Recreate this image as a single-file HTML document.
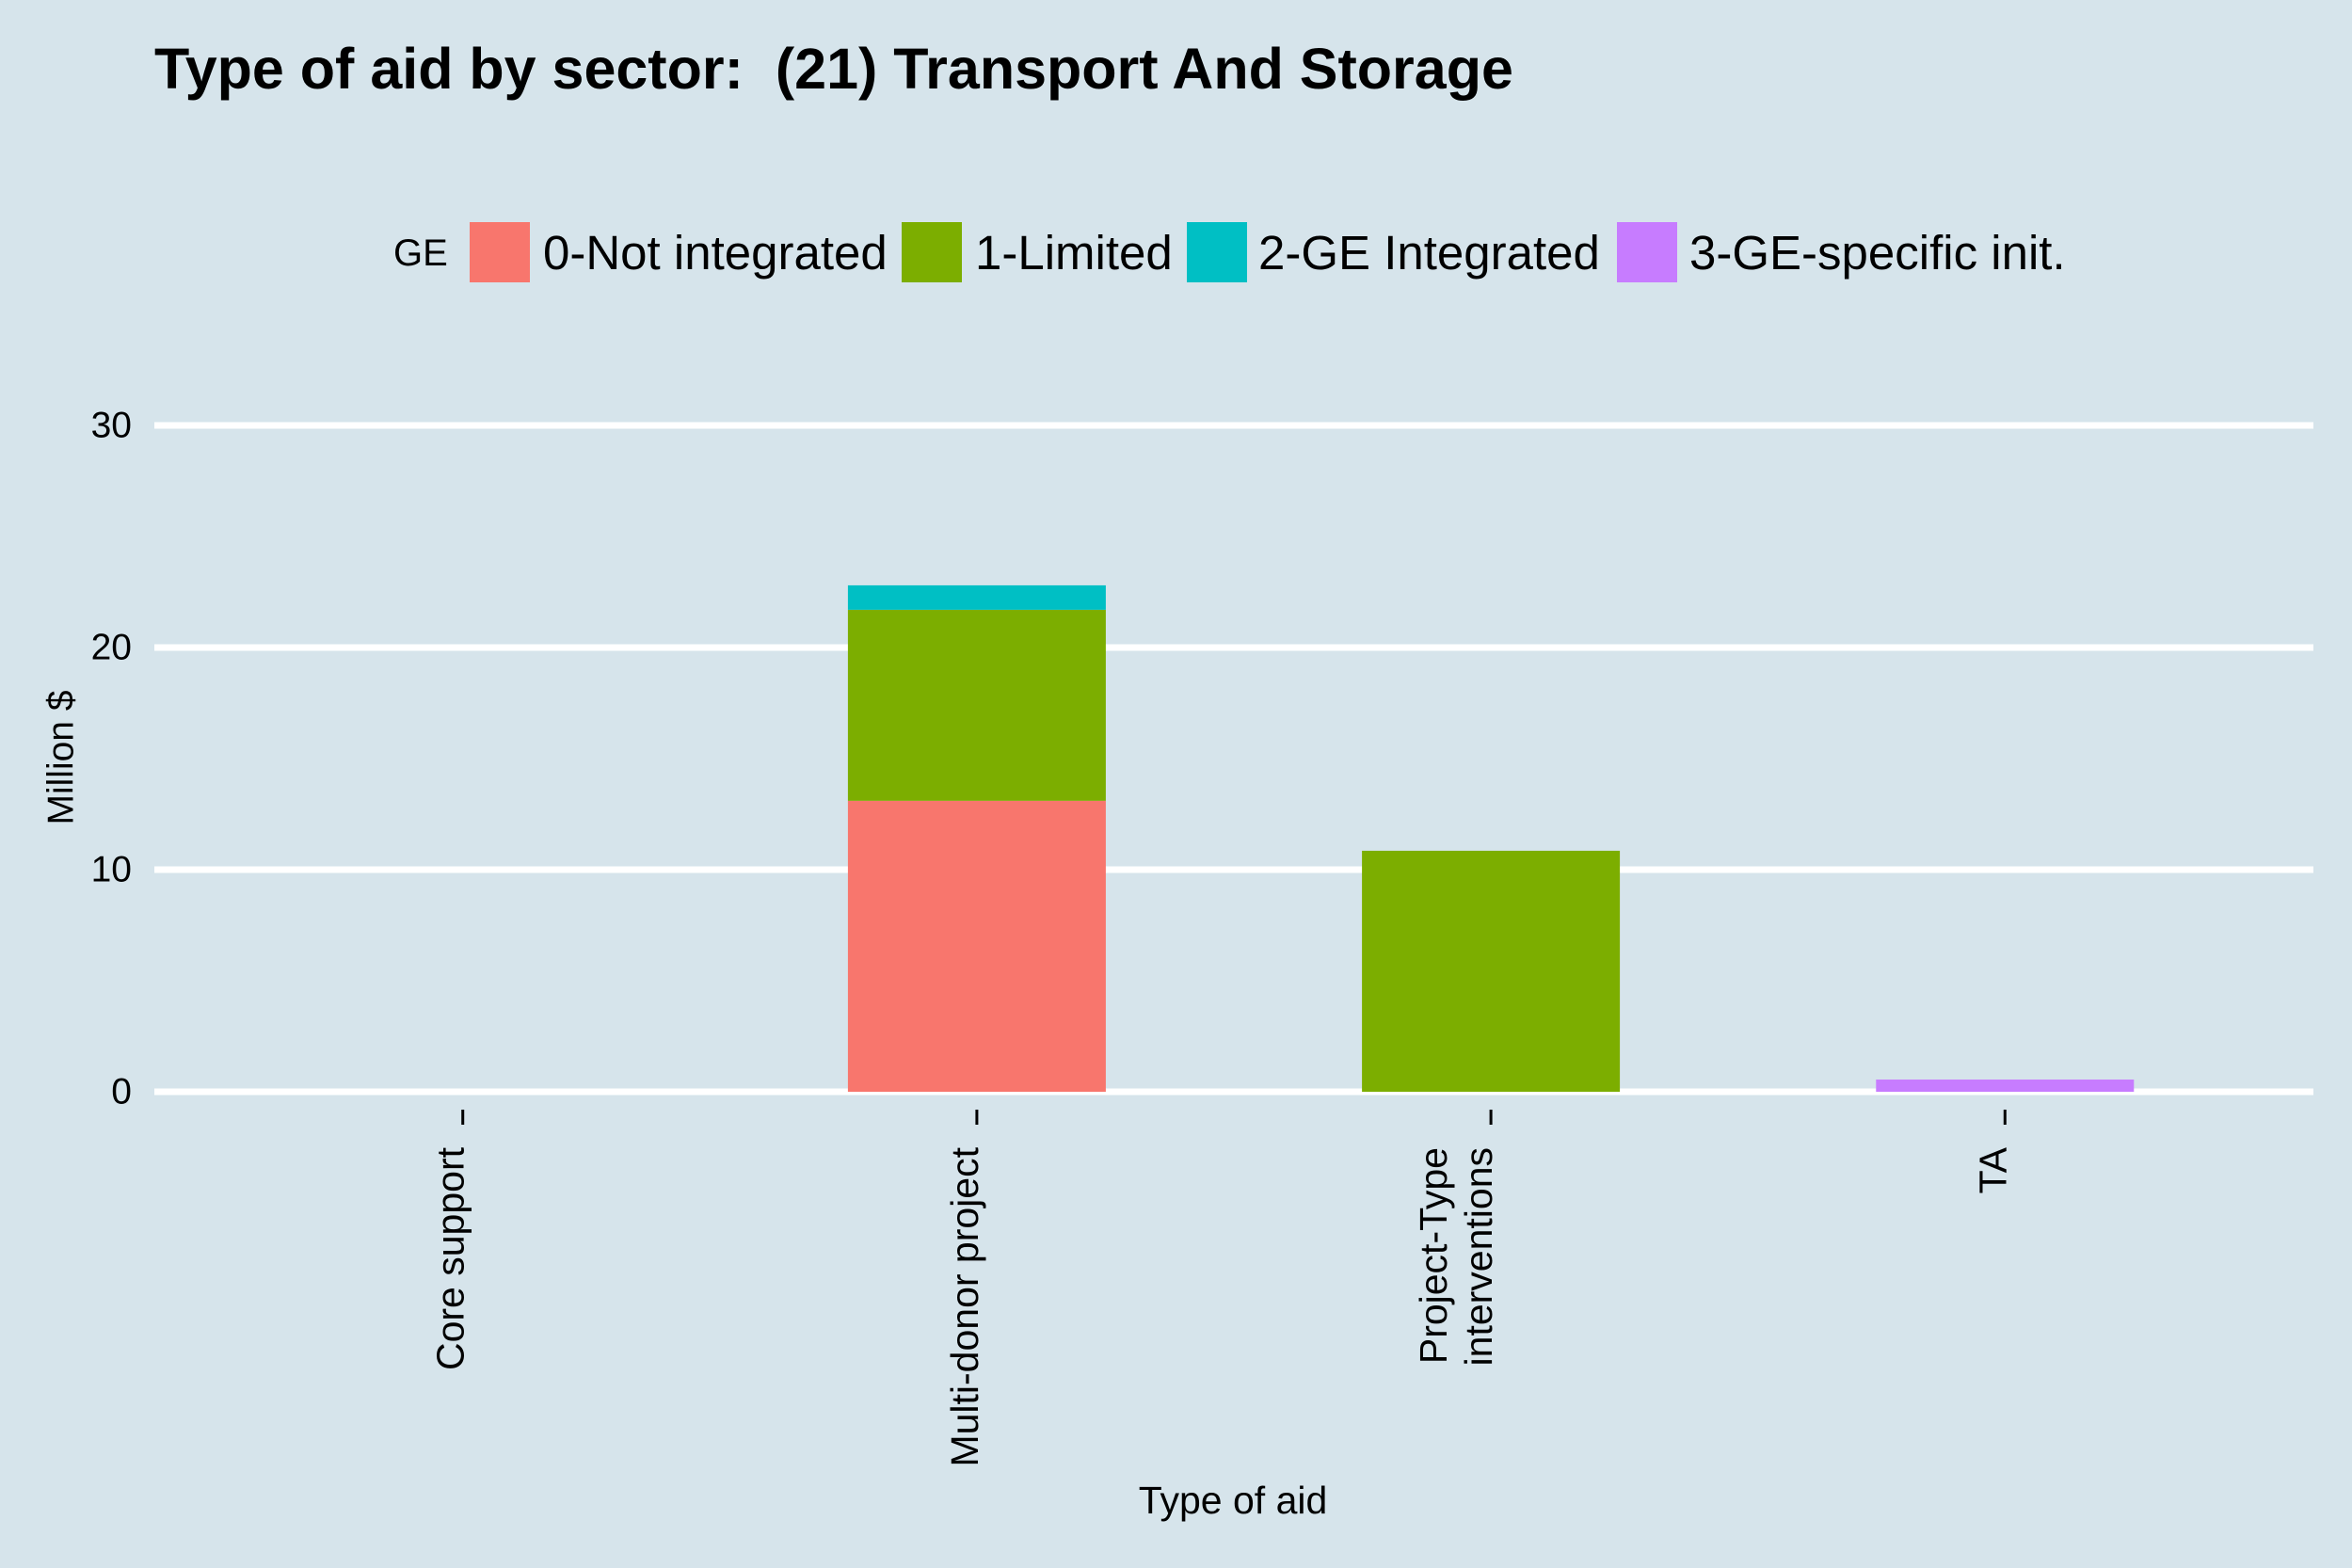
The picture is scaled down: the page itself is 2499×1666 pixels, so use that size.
<!DOCTYPE html>
<html><head><meta charset="utf-8"><style>
html,body{margin:0;padding:0;background:#d6e4eb;}
svg{display:block;font-family:"Liberation Sans",Arial,sans-serif;}
</style></head><body>
<svg id="chart" width="2499" height="1666" viewBox="0 0 2499 1666">
<rect x="0" y="0" width="2499" height="1666" fill="#d6e4eb"/>
<text x="164" y="94" font-size="61" font-weight="bold" fill="#000" xml:space="preserve" style="white-space:pre">Type of aid by sector:  (21) Transport And Storage</text>
<g>
<text x="418" y="282" font-size="40">GE</text>
<rect x="499" y="236" width="64" height="64" fill="#f8766d"/>
<text x="577" y="286" font-size="51">0-Not integrated</text>
<rect x="958" y="236" width="64" height="64" fill="#7cae00"/>
<text x="1036" y="286" font-size="51">1-Limited</text>
<rect x="1261" y="236" width="64" height="64" fill="#00bfc4"/>
<text x="1337" y="286" font-size="51">2-GE Integrated</text>
<rect x="1718" y="236" width="64" height="64" fill="#c77cff"/>
<text x="1795" y="286" font-size="51">3-GE-specific init.</text>
</g>
<g id="grid"></g>
<g id="bars"></g>
<g id="xaxis"></g>
<text x="65" y="805" font-size="39" text-anchor="middle" transform="rotate(-90 65 805)" dominant-baseline="central">Million $</text>
<text x="1310" y="1608" font-size="41" text-anchor="middle">Type of aid</text>
</svg>
<script>
const categories = [["Core support"], ["Multi-donor project"], ["Project-Type", "interventions"], ["TA"]];
const seriesNames = ["0-Not integrated", "1-Limited", "2-GE Integrated", "3-GE-specific init."];
const seriesNotIntegrated = [0, 13.1, 0, 0];
const seriesLimited = [0, 8.6, 10.85, 0];
const seriesIntegrated = [0, 1.1, 0, 0];
const seriesSpecific = [0, 0, 0, 0.55];
const yTicks = [0, 10, 20, 30];
const colors = ["#f8766d", "#7cae00", "#00bfc4", "#c77cff"];

const NS = "http://www.w3.org/2000/svg";
const plotL = 164, plotR = 2458, y0 = 1160, pxPerUnit = 23.6;
const yScale = v => y0 - v * pxPerUnit;
const step = (plotR - plotL) / (categories.length + 0.2);
const xCenter = i => plotL + step * (i + 0.6);
const barW = 274;

const grid = document.getElementById("grid");
yTicks.forEach(t => {
  const l = document.createElementNS(NS, "line");
  l.setAttribute("x1", plotL); l.setAttribute("x2", plotR);
  l.setAttribute("y1", yScale(t)); l.setAttribute("y2", yScale(t));
  l.setAttribute("stroke", "#fff"); l.setAttribute("stroke-width", "7");
  
  
  grid.appendChild(l);
  const tx = document.createElementNS(NS, "text");
  tx.setAttribute("x", 140); tx.setAttribute("y", yScale(t));
  tx.setAttribute("text-anchor", "end"); tx.setAttribute("dominant-baseline", "central");
  tx.setAttribute("font-size", "39");
  tx.textContent = t;
  
  
  grid.appendChild(tx);
});

const bars = document.getElementById("bars");
const allSeries = [seriesNotIntegrated, seriesLimited, seriesIntegrated, seriesSpecific];
categories.forEach((c, i) => {
  let acc = 0;
  allSeries.forEach((s, k) => {
    const v = s[i];
    if (v > 0) {
      const r = document.createElementNS(NS, "rect");
      r.setAttribute("x", xCenter(i) - barW / 2);
      r.setAttribute("width", barW);
      r.setAttribute("y", yScale(acc + v));
      r.setAttribute("height", yScale(acc) - yScale(acc + v));
      r.setAttribute("fill", colors[k]);
      
      
      bars.appendChild(r);
      acc += v;
    }
  });
});

const xaxis = document.getElementById("xaxis");
categories.forEach((c, i) => {
  const x = xCenter(i);
  const tk = document.createElementNS(NS, "line");
  tk.setAttribute("x1", x); tk.setAttribute("x2", x);
  tk.setAttribute("y1", 1179); tk.setAttribute("y2", 1195);
  tk.setAttribute("stroke", "#000"); tk.setAttribute("stroke-width", "3");
  
  
  xaxis.appendChild(tk);
  const n = c.length;
  c.forEach((line, j) => {
    const lx = x - 13 - (n - 1 - j) * 48;
    const tx = document.createElementNS(NS, "text");
    tx.setAttribute("x", lx); tx.setAttribute("y", 1219);
    tx.setAttribute("text-anchor", "end");
    tx.setAttribute("dominant-baseline", "central");
    tx.setAttribute("font-size", "41");
    tx.setAttribute("transform", "rotate(-90 " + lx + " 1219)");
    tx.textContent = line;
    
    
    xaxis.appendChild(tx);
  });
});
</script>
</body></html>
